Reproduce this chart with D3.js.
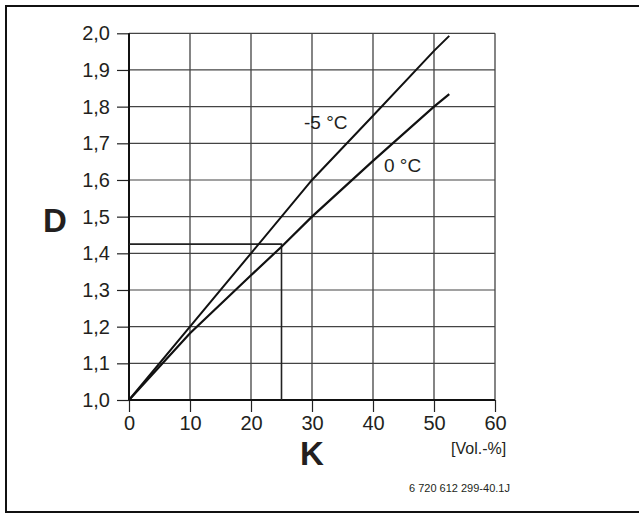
<!DOCTYPE html>
<html><head><meta charset="utf-8">
<script src="https://cdn.jsdelivr.net/npm/d3@7"></script>
<style>body{margin:0;background:#fff}svg{display:block}text{font-family:"Liberation Sans",Arial,Helvetica,sans-serif;fill:#231f20}</style>
</head><body><div id="c"></div>
<script>
const xTicks = [0,10,20,30,40,50,60];
const yTicks = [1.0,1.1,1.2,1.3,1.4,1.5,1.6,1.7,1.8,1.9,2.0];
const seriesNames = ["-5 °C","0 °C"];
const kMinus5 = [0,10,20,30,40,50,52.5];
const dMinus5 = [1.0,1.2,1.4,1.6,1.775,1.952,1.993];
const kZero = [0,10,20,25,30,40,50,52.5];
const dZero = [1.0,1.182,1.34,1.418,1.5,1.652,1.8,1.834];
const markerK = 25, markerD = 1.425;

const W=639,H=513;
const svg=d3.select("#c").append("svg").attr("width",W).attr("height",H);
svg.append("rect").attr("x",6).attr("y",6).attr("width",640).attr("height",506)
  .attr("fill","none").attr("stroke","#111").attr("stroke-width",2);

const x=d3.scaleLinear().domain([0,60]).range([129,495]);
const y=d3.scaleLinear().domain([1.0,2.0]).range([400,33.3]);
const fmt=d=>d3.format(".1f")(d).replace(".",",");

// grid
svg.append("g").selectAll("line").data(xTicks.slice(1)).join("line")
  .attr("x1",d=>x(d)).attr("x2",d=>x(d)).attr("y1",y(1)).attr("y2",y(2))
  .attr("stroke","#333").attr("stroke-width",1.2);
svg.append("g").selectAll("line").data(yTicks.slice(1)).join("line")
  .attr("x1",x(0)).attr("x2",x(60)).attr("y1",d=>y(d)).attr("y2",d=>y(d))
  .attr("stroke","#444").attr("stroke-width",1.2);

// axes
const xa=svg.append("g").attr("transform",`translate(0,${y(1)})`)
  .call(d3.axisBottom(x).tickValues(xTicks).tickSize(12).tickPadding(4).tickFormat(d3.format("d")));
const ya=svg.append("g").attr("transform",`translate(${x(0)},0)`)
  .call(d3.axisLeft(y).tickValues(yTicks).tickSize(12).tickPadding(7).tickFormat(fmt));
[xa,ya].forEach(a=>{a.select(".domain").remove();
  a.selectAll("line").attr("stroke","#222").attr("stroke-width",1.2);
  a.selectAll("text").attr("font-size",20).attr("font-family",null).attr("fill","#231f20");});
svg.append("line").attr("x1",x(0)).attr("x2",x(60)).attr("y1",y(1)).attr("y2",y(1)).attr("stroke","#111").attr("stroke-width",2);
svg.append("line").attr("x1",x(0)).attr("x2",x(0)).attr("y1",y(1)).attr("y2",y(2)).attr("stroke","#111").attr("stroke-width",2);

// marker lines
svg.append("path").attr("d",d3.line()([[x(0),y(markerD)],[x(markerK),y(markerD)],[x(markerK),y(1)]]))
  .attr("fill","none").attr("stroke","#222").attr("stroke-width",1.6);

// curves
const line=d3.line().x(d=>x(d[0])).y(d=>y(d[1]));
svg.append("path").attr("d",line(kMinus5.map((k,i)=>[k,dMinus5[i]])))
  .attr("fill","none").attr("stroke","#111").attr("stroke-width",2);
svg.append("path").attr("d",line(kZero.map((k,i)=>[k,dZero[i]])))
  .attr("fill","none").attr("stroke","#111").attr("stroke-width",2.2);

svg.append("text").attr("x",304).attr("y",129).attr("font-size",19).text(seriesNames[0]);
svg.append("text").attr("x",384).attr("y",172).attr("font-size",19).text(seriesNames[1]);

svg.append("text").attr("x",43).attr("y",232).attr("font-size",33).attr("font-weight","bold").text("D");
svg.append("text").attr("x",300).attr("y",465).attr("font-size",33).attr("font-weight","bold").text("K");
svg.append("text").attr("x",451).attr("y",454).attr("font-size",16).text("[Vol.-%]");
svg.append("text").attr("x",409).attr("y",492).attr("font-size",11).text("6 720 612 299-40.1J");
</script></body></html>
